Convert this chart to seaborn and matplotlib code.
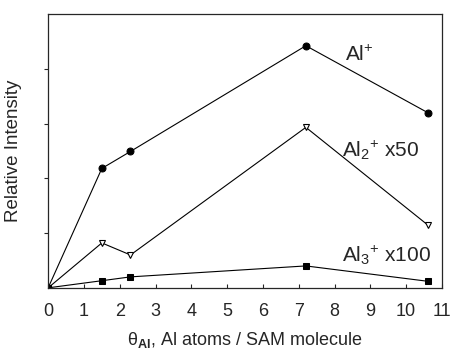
import matplotlib
matplotlib.use("Agg")
import matplotlib.pyplot as plt
import pandas as pd
import seaborn as sns

# Data (x = theta_Al, y = relative intensity, arb. units)
coverage = [0, 1.5, 2.3, 7.2, 10.6]
al1 = [0, 2.18, 2.49, 4.42, 3.2]
al2_x50 = [0, 0.82, 0.60, 2.93, 1.15]
al3_x100 = [0, 0.13, 0.20, 0.40, 0.12]

sns.set_style("ticks")
plt.rcParams['font.family'] = ['Liberation Sans', 'DejaVu Sans']
plt.rcParams['mathtext.fontset'] = 'custom'
plt.rcParams['mathtext.rm'] = 'Liberation Sans'
plt.rcParams['mathtext.it'] = 'Liberation Sans'
plt.rcParams['mathtext.bf'] = 'Liberation Sans:bold'

df = pd.DataFrame({'x': coverage, 'al1': al1, 'al2': al2_x50, 'al3': al3_x100})

fig = plt.figure(figsize=(4.5, 3.58), dpi=100)
ax = fig.add_axes([0.107, 0.196, 0.875, 0.765])

sns.lineplot(data=df, x='x', y='al1', ax=ax, color='black', lw=0.8,
             marker='o', markersize=5, markeredgecolor='black')
sns.lineplot(data=df, x='x', y='al2', ax=ax, color='black', lw=0.8,
             marker='v', markersize=5, markerfacecolor='white',
             markeredgecolor='black', markeredgewidth=0.8)
sns.lineplot(data=df, x='x', y='al3', ax=ax, color='black', lw=0.8,
             marker='s', markersize=4.5, markeredgecolor='black')

ax.set_xlim(0, 11)
ax.set_ylim(0, 5)
ax.set_xticks(range(0, 12))
ax.set_yticks([1, 2, 3, 4])
ax.set_yticklabels([])
ax.tick_params(axis='x', direction='in', length=3, labelsize=13, pad=11)
ax.tick_params(axis='y', direction='out', length=3)
for s in ax.spines.values():
    s.set_visible(True)
    s.set_linewidth(0.9)

ax.set_xlabel(r'$\theta_{\mathbf{Al}}$, Al atoms / SAM molecule', fontsize=13, labelpad=7)
ax.set_ylabel('Relative Intensity', fontsize=13.5, labelpad=12)

ax.text(8.3, 4.15, r'Al$^{+}$', fontsize=15)
ax.text(8.2, 2.4, r'Al$_{2}$$^{+}$ x50', fontsize=15)
ax.text(8.2, 0.47, r'Al$_{3}$$^{+}$ x100', fontsize=15)

fig.savefig('out.png', dpi=100)
